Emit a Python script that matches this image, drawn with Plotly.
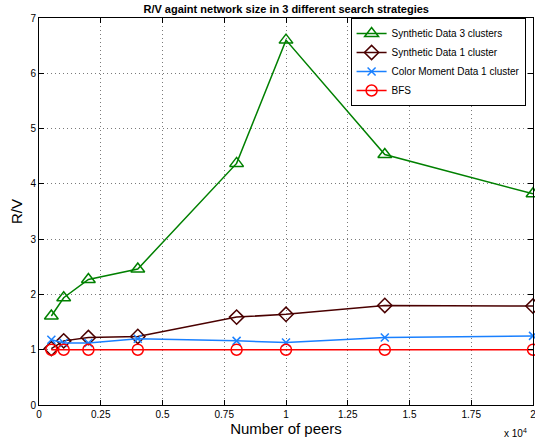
import plotly.graph_objects as go

peers = [500, 1000, 2000, 4000, 8000, 10000, 14000, 20000]
synth3 = [1.61, 1.94, 2.27, 2.46, 4.37, 6.60, 4.53, 3.82]
synth1 = [1.02, 1.16, 1.22, 1.24, 1.59, 1.64, 1.80, 1.79]
colormoment = [1.18, 1.12, 1.12, 1.20, 1.16, 1.13, 1.22, 1.25]
bfs = [1.0, 1.0, 1.0, 1.0, 1.0, 1.0, 1.0, 1.0]

series_names = ["Synthetic Data 3 clusters", "Synthetic Data 1 cluster",
                "Color Moment Data 1 cluster", "BFS"]
x_tickvals = [0, 2500, 5000, 7500, 10000, 12500, 15000, 17500, 20000]
x_ticktext = ["0", "0.25", "0.5", "0.75", "1", "1.25", "1.5", "1.75", "2"]
y_tickvals = [0, 1, 2, 3, 4, 5, 6, 7]

styles = [
    dict(color="#008000", symbol="triangle-up-open", size=12),
    dict(color="#4a0000", symbol="diamond-open", size=11),
    dict(color="#1a80ff", symbol="x-thin-open", size=8),
    dict(color="#ff0000", symbol="circle-open", size=11),
]

fig = go.Figure()
for name, ys, st in zip(series_names, [synth3, synth1, colormoment, bfs], styles):
    fig.add_trace(go.Scatter(
        x=peers, y=ys, name=name, mode="lines+markers",
        line=dict(color=st["color"], width=1.5),
        marker=dict(symbol=st["symbol"], size=st["size"], color=st["color"],
                    line=dict(color=st["color"], width=1.5)),
        cliponaxis=False,
    ))

font_family = "Liberation Sans, Arial, sans-serif"
grid_style = dict(showgrid=True, gridcolor="#7a7a7a", griddash="1px,3px", gridwidth=1,
                  showline=True, linecolor="black", linewidth=1, mirror="allticks",
                  ticks="inside", ticklen=5, tickcolor="black", zeroline=False,
                  automargin=False)
fig.update_layout(
    width=535, height=445,
    margin=dict(l=39, r=2, t=18, b=40, autoexpand=False),
    paper_bgcolor="white", plot_bgcolor="white",
    font=dict(family=font_family, size=10, color="black"),
    title=dict(text="<b>R/V againt network size in 3 different search strategies</b>",
               x=0.535, xanchor="center", y=1 - 9 / 445, yanchor="middle",
               yref="container", font=dict(size=11)),
    showlegend=True,
    legend=dict(x=0.985, xanchor="right", y=1, yanchor="top",
                bgcolor="white", bordercolor="black", borderwidth=1,
                font=dict(size=10), tracegroupgap=0, itemwidth=30),
    xaxis=dict(range=[0, 20000], tickvals=x_tickvals, ticktext=x_ticktext,
               ticklabeloverflow="allow",
               title=dict(text="Number of peers", font=dict(size=15), standoff=3),
               **grid_style),
    yaxis=dict(range=[0, 7], tickvals=y_tickvals,
               title=dict(text="R/V", font=dict(size=15), standoff=4),
               **grid_style),
    annotations=[dict(text="x 10<sup>4</sup>", xref="paper", yref="paper",
                      x=0.992, y=-0.052, xanchor="right", yanchor="top",
                      showarrow=False, font=dict(size=10))],
)

fig.write_html("out.html", config={"displayModeBar": False},
               post_script="document.body.style.margin='0';document.body.style.overflow='hidden';")
